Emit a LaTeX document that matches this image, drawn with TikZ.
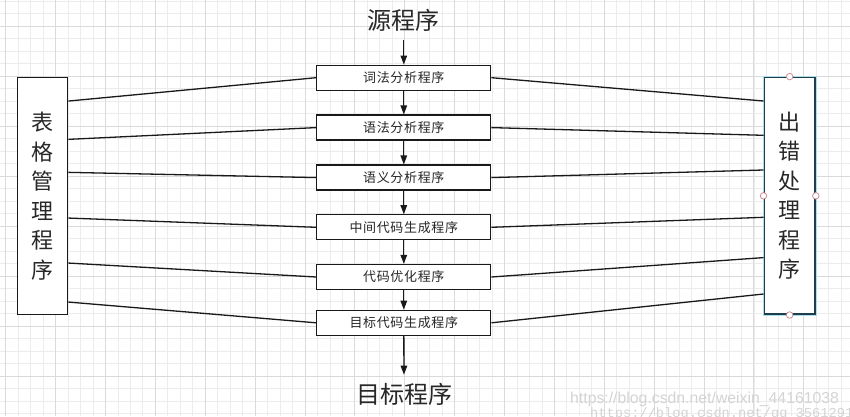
\documentclass[tikz,border=0pt]{standalone}
\usepackage{fontspec}
\setmainfont{Liberation Sans}
\newfontfamily\cjk{Noto Sans CJK SC}
\newfontfamily\cjksm[LetterSpace=5]{Noto Sans CJK SC}
\newfontfamily\wmsans{Liberation Sans}
\newfontfamily\wmmono{Liberation Mono}
\usetikzlibrary{arrows.meta,calc}
\definecolor{gridminor}{RGB}{236,236,236}
\definecolor{gridmajor}{RGB}{218,218,218}
\definecolor{teal}{RGB}{30,62,78}
\definecolor{glow}{RGB}{170,222,232}
\definecolor{handle}{RGB}{205,140,150}
\definecolor{wm}{RGB}{212,212,212}
\definecolor{txt}{RGB}{40,40,40}
\begin{document}
\begin{tikzpicture}[x=1pt,y=-1pt,
  stagebox/.style={draw=black!90,line width=1.3pt,fill=white,minimum width=174pt,minimum height=25pt,inner sep=0pt,text=txt,font=\cjksm\fontsize{13}{15}\selectfont},
  sidebox/.style={draw=black!90,line width=1.3pt,fill=white,minimum width=50.5pt,minimum height=236.6pt,inner sep=0pt,align=center,text=txt,font=\cjk\fontsize{22}{29.5}\selectfont},
  bigtext/.style={inner sep=0pt,text=txt,font=\cjk\fontsize{24}{28}\selectfont},
  arr/.style={line width=1.3pt,draw=black!90,-{Triangle[length=9pt,width=6.5pt]}},
  link/.style={line width=1.3pt,draw=black!90},
  hnd/.style={circle,draw=handle,fill=white,line width=0.8pt,minimum size=6.5pt,inner sep=0pt}]
\clip (0,0) rectangle (850,416);
\fill[white] (0,0) rectangle (850,416);
% grid
\foreach \i in {0,...,68} \draw[gridminor,line width=0.8pt] ({5.7+12.47*\i},0) -- ++(0,416);
\foreach \j in {0,...,33} \draw[gridminor,line width=0.8pt] (0,{1+12.5*\j}) -- ++(850,0);
\foreach \i in {0,...,17} \draw[gridmajor,line width=0.9pt] ({5.7+49.88*\i},0) -- ++(0,416);
\foreach \j in {0,...,8} \draw[gridmajor,line width=0.9pt] (0,{26+50*\j}) -- ++(850,0);
% watermark
\node[anchor=west,inner sep=0pt,text=wm,font=\wmsans\fontsize{15.8}{18}\selectfont] (wm1) at (570,399) {https://blog.csdn.net/weixin\_44161038};
\node[anchor=west,inner sep=0pt,text=wm,font=\wmmono\fontsize{13.7}{16}\selectfont] (wm2) at (590,414) {https://blog.csdn.net/qq\_3561291};
% nodes
\node[bigtext] (src) at (403.8,20) {源程序};
\node[stagebox] (b1) at (403.8,77.7) {词法分析程序};
\node[stagebox] (b2) at (403.8,127.6) {语法分析程序};
\node[stagebox] (b3) at (403.8,177.6) {语义分析程序};
\node[stagebox] (b4) at (403.8,227.3) {中间代码生成程序};
\node[stagebox] (b5) at (403.8,277.0) {代码优化程序};
\node[stagebox] (b6) at (403.8,322.8) {目标代码生成程序};
\node[bigtext] (tgt) at (404,394) {目标程序};
\node[sidebox] (L) at (42.5,196) {表\\格\\管\\理\\程\\序};
\draw[glow,line width=3.6pt] (764.3,77.3) rectangle (815,314.3);
\node[sidebox,draw=teal,line width=1.8pt] (R) at (789.65,195.8) {出\\错\\处\\理\\程\\序};
% arrows
\draw[arr,shorten <=8.5pt] (src) -- (b1);
\draw[arr] (b1) -- (b2);
\draw[arr] (b2) -- (b3);
\draw[arr] (b3) -- (b4);
\draw[arr] (b4) -- (b5);
\draw[arr] (b5) -- (b6);
\draw[arr,shorten >=8pt] (b6) -- (tgt);
% links left
\draw[link] ($(L.north east)+(0,24)$) -- (b1.west);
\draw[link] ($(L.north east)+(0,62.3)$) -- (b2.west);
\draw[link] ($(L.north east)+(0,95.3)$) -- (b3.west);
\draw[link] ($(L.north east)+(0,141)$) -- (b4.west);
\draw[link] ($(L.north east)+(0,186)$) -- (b5.west);
\draw[link] ($(L.north east)+(0,225)$) -- (b6.west);
% links right
\draw[link] (b1.east) -- ($(R.north west)+(0,24.4)$);
\draw[link] (b2.east) -- ($(R.north west)+(0,58.7)$);
\draw[link] (b3.east) -- ($(R.north west)+(0,93.4)$);
\draw[link] (b4.east) -- ($(R.north west)+(0,140.7)$);
\draw[link] (b5.east) -- ($(R.north west)+(0,181)$);
\draw[link] (b6.east) -- ($(R.north west)+(0,217.4)$);
% handles
\node[hnd] (h1) at (R.north) {};
\node[hnd] (h2) at (R.west) {};
\node[hnd] (h3) at (R.east) {};
\node[hnd] (h4) at (R.south) {};
\end{tikzpicture}
\end{document}
